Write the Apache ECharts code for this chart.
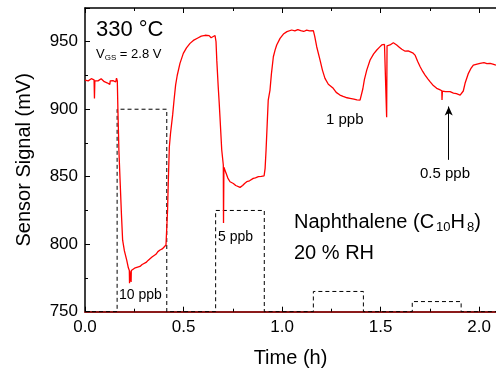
<!DOCTYPE html>
<html>
<head>
<meta charset="utf-8">
<script src="https://cdn.jsdelivr.net/npm/echarts@6/dist/echarts.min.js"></script>
<style>html,body{margin:0;padding:0;background:#fff}#c{width:496px;height:371px}</style>
</head>
<body>
<div id="c"></div>
<script>
// ---- data ----
const timeH = [0.000,0.008,0.016,0.024,0.032,0.040,0.046,0.048,0.050,0.058,0.066,0.074,0.082,0.090,0.098,0.106,0.112,0.126,0.128,0.134,0.142,0.150,0.156,0.160,0.164,0.167,0.172,0.178,0.185,0.191,0.200,0.212,0.220,0.225,0.226,0.227,0.232,0.234,0.235,0.245,0.255,0.265,0.279,0.290,0.300,0.310,0.320,0.330,0.340,0.350,0.360,0.370,0.381,0.392,0.400,0.411,0.415,0.419,0.423,0.428,0.434,0.445,0.452,0.460,0.468,0.482,0.499,0.515,0.533,0.550,0.575,0.590,0.600,0.610,0.620,0.630,0.640,0.650,0.660,0.665,0.669,0.676,0.681,0.685,0.694,0.702,0.703,0.705,0.710,0.716,0.725,0.736,0.745,0.753,0.765,0.775,0.787,0.800,0.810,0.821,0.835,0.854,0.865,0.880,0.895,0.909,0.914,0.919,0.925,0.930,0.939,0.946,0.956,0.965,0.973,0.990,1.007,1.025,1.049,1.065,1.080,1.095,1.110,1.125,1.140,1.159,1.166,1.176,1.193,1.205,1.218,1.235,1.260,1.275,1.294,1.310,1.330,1.345,1.365,1.380,1.396,1.405,1.410,1.418,1.430,1.447,1.465,1.481,1.495,1.506,1.520,1.530,1.531,1.533,1.548,1.565,1.582,1.595,1.608,1.625,1.640,1.650,1.663,1.675,1.688,1.701,1.714,1.726,1.740,1.751,1.768,1.785,1.800,1.811,1.812,1.814,1.830,1.853,1.870,1.885,1.904,1.912,1.920,1.929,1.946,1.958,1.971,1.990,2.005,2.025,2.040,2.056,2.070,2.086];
const signalMV = [921.5,922.3,921.0,921.8,922.6,921.2,921.8,908.0,921.0,922.4,921.0,921.8,922.6,921.2,920.4,921.4,919.6,918.4,921.0,919.8,921.2,922.6,920.2,923.0,921.0,900.0,870.0,847.5,822.0,803.0,795.0,788.0,782.5,780.5,771.0,780.0,781.0,772.0,780.5,781.5,782.5,782.0,783.5,785.0,785.8,786.5,788.0,788.5,790.5,791.0,792.5,794.5,795.7,796.5,797.5,799.4,800.5,825.0,847.5,872.0,882.0,896.0,906.8,918.0,925.0,934.0,941.4,945.5,948.8,951.0,953.0,954.2,953.5,954.8,953.6,954.5,953.0,954.2,954.6,950.0,936.0,917.0,905.0,894.4,869.8,858.7,815.7,857.0,855.0,853.7,849.0,846.3,845.5,845.0,843.5,843.0,842.1,843.5,845.0,846.3,847.0,848.8,849.2,850.0,850.2,850.7,856.0,869.8,890.0,906.8,914.2,926.0,938.9,944.0,947.6,952.5,955.7,957.5,958.7,958.0,959.0,958.2,957.6,958.6,958.0,958.3,954.0,946.3,936.4,929.0,922.9,918.5,915.5,912.5,910.5,909.5,908.5,908.1,907.5,907.0,906.8,905.6,915.0,922.0,929.0,936.5,941.0,943.9,946.0,947.6,948.0,947.6,894.0,947.0,947.6,949.3,947.6,946.0,944.4,943.0,943.2,942.6,941.8,940.1,935.5,931.5,928.0,925.3,922.5,920.4,917.5,915.5,914.5,913.7,906.8,913.5,913.0,913.0,912.0,911.5,910.5,909.3,913.5,919.2,926.6,930.0,932.7,933.5,934.0,934.5,933.8,934.0,933.5,932.7];
// gas pulses (naphthalene concentration, ppb)
const pulseStart = [0.163, 0.663, 1.159, 1.661];
const pulseEnd   = [0.415, 0.910, 1.413, 1.909];
const pulseConc  = [10, 5, 1, 0.5];
const pulseLabels = ['10 ppb', '5 ppb', '1 ppb', '0.5 ppb'];
const xTickLabels = ['0.0', '0.5', '1.0', '1.5', '2.0'];
const yTickLabels = ['750', '800', '850', '900', '950'];

const X_MAX = 2.086;
const signalData = timeH.map((t, i) => [t, signalMV[i]]);
const concData = [[0, 0]];
pulseStart.forEach((s, i) => {
  concData.push([s, 0], [s, pulseConc[i]], [pulseEnd[i], pulseConc[i]], [pulseEnd[i], 0]);
});
concData.push([X_MAX, 0]);

const FONT = "'Liberation Sans', Arial, sans-serif";
const chart = echarts.init(document.getElementById('c'), null, {renderer: 'canvas'});
const axisTxt = {fontFamily: FONT, fontSize: 17, color: '#000'};

chart.setOption({
  animation: false,
  backgroundColor: '#fff',
  grid: {left: 85, right: 0, top: 8, bottom: 59.3, containLabel: false, outerBoundsMode: 'none'},
  xAxis: [{
    type: 'value', min: 0, max: X_MAX, interval: 0.5, position: 'bottom',
    name: 'Time (h)', nameLocation: 'middle', nameGap: 37,
    nameTextStyle: {fontFamily: FONT, fontSize: 20, color: '#000'},
    axisLine: {show: true, onZero: false, lineStyle: {color: '#8b1a1a', width: 2}},
    axisTick: {show: true, inside: true, length: 5, lineStyle: {color: '#000', width: 1}},
    minorTick: {show: true, splitNumber: 2, length: 3, lineStyle: {color: '#000', width: 1}},
    axisLabel: Object.assign({margin: 7, showMaxLabel: false,
      formatter: v => { const i = Math.round(v / 0.5); return Math.abs(v - i * 0.5) < 1e-6 ? xTickLabels[i] : ''; }}, axisTxt),
    splitLine: {show: false}
  }, {
    type: 'value', min: 0, max: X_MAX, interval: 0.5, position: 'top',
    axisLine: {show: true, onZero: false, lineStyle: {color: '#000', width: 1.5}},
    axisTick: {show: true, inside: true, length: 5, lineStyle: {color: '#000', width: 1}},
    minorTick: {show: true, splitNumber: 2, length: 3, lineStyle: {color: '#000', width: 1}},
    axisLabel: {show: false}, splitLine: {show: false}
  }],
  yAxis: [{
    type: 'value', min: 750, max: 975, interval: 50, position: 'left',
    name: 'Sensor Signal (mV)', nameLocation: 'middle', nameGap: 51, nameRotate: 90,
    nameTextStyle: {fontFamily: FONT, fontSize: 20, color: '#000'},
    axisLine: {show: true, onZero: false, lineStyle: {color: '#000', width: 1.5}},
    axisTick: {show: true, inside: true, length: 5, lineStyle: {color: '#000', width: 1}},
    minorTick: {show: true, splitNumber: 2, length: 3, lineStyle: {color: '#000', width: 1}},
    axisLabel: Object.assign({margin: 7, showMaxLabel: false,
      formatter: v => { const i = Math.round((v - 750) / 50); return Math.abs(v - 750 - i * 50) < 1e-6 ? yTickLabels[i] : ''; }}, axisTxt),
    splitLine: {show: false}
  }, {
    type: 'value', min: 0, max: 15, show: false
  }],
  series: [{
    type: 'line', name: 'conc', xAxisIndex: 0, yAxisIndex: 1, data: concData,
    showSymbol: false, symbol: 'none', silent: true, z: 3,
    lineStyle: {color: '#000', width: 1, type: [4, 3]}
  }, {
    type: 'line', name: 'signal', xAxisIndex: 0, yAxisIndex: 0, data: signalData,
    showSymbol: false, symbol: 'none', silent: true, z: 4,
    lineStyle: {color: '#ff0000', width: 1.3},
    markLine: {
      silent: true, symbol: ['none', 'arrow'], symbolSize: [6, 9],
      lineStyle: {color: '#000', width: 1, type: 'solid'},
      label: {show: false},
      data: [[{coord: [1.846, 862.5]}, {coord: [1.846, 902]}]]
    }
  }],
  graphic: [
    {type: 'text', x: 96, y: 30, style: {text: '330 °C', font: '22px ' + FONT, fill: '#000', align: 'left', verticalAlign: 'middle'}},
    {type: 'text', x: 96, y: 54, style: {
      text: '{a|V}{b|GS}{a| = 2.8 V}', fill: '#000', align: 'left', verticalAlign: 'middle',
      rich: {a: {fontFamily: FONT, fontSize: 13, lineHeight: 16, verticalAlign: 'middle'},
             b: {fontFamily: FONT, fontSize: 8, lineHeight: 6, verticalAlign: 'bottom'}}}},
    {type: 'text', x: 294, y: 222, style: {
      text: '{a|Naphthalene (C}{b|10}{a|H}{b|8}{a|)}', fill: '#000', align: 'left', verticalAlign: 'middle',
      rich: {a: {fontFamily: FONT, fontSize: 20, lineHeight: 24, verticalAlign: 'middle'},
             b: {fontFamily: FONT, fontSize: 13, lineHeight: 10, verticalAlign: 'bottom', padding: [0, 0, 0, 2]}}}},
    {type: 'text', x: 294, y: 253, style: {text: '20 % RH', font: '20px ' + FONT, fill: '#000', align: 'left', verticalAlign: 'middle'}},
    {type: 'text', x: 119, y: 295, style: {text: pulseLabels[0], font: '14px ' + FONT, fill: '#000', align: 'left', verticalAlign: 'middle'}},
    {type: 'text', x: 218, y: 237, style: {text: pulseLabels[1], font: '14px ' + FONT, fill: '#000', align: 'left', verticalAlign: 'middle'}},
    {type: 'text', x: 326, y: 120, style: {text: pulseLabels[2], font: '15px ' + FONT, fill: '#000', align: 'left', verticalAlign: 'middle'}},
    {type: 'text', x: 420, y: 174, style: {text: pulseLabels[3], font: '15px ' + FONT, fill: '#000', align: 'left', verticalAlign: 'middle'}}
  ]
});
</script>
</body>
</html>
